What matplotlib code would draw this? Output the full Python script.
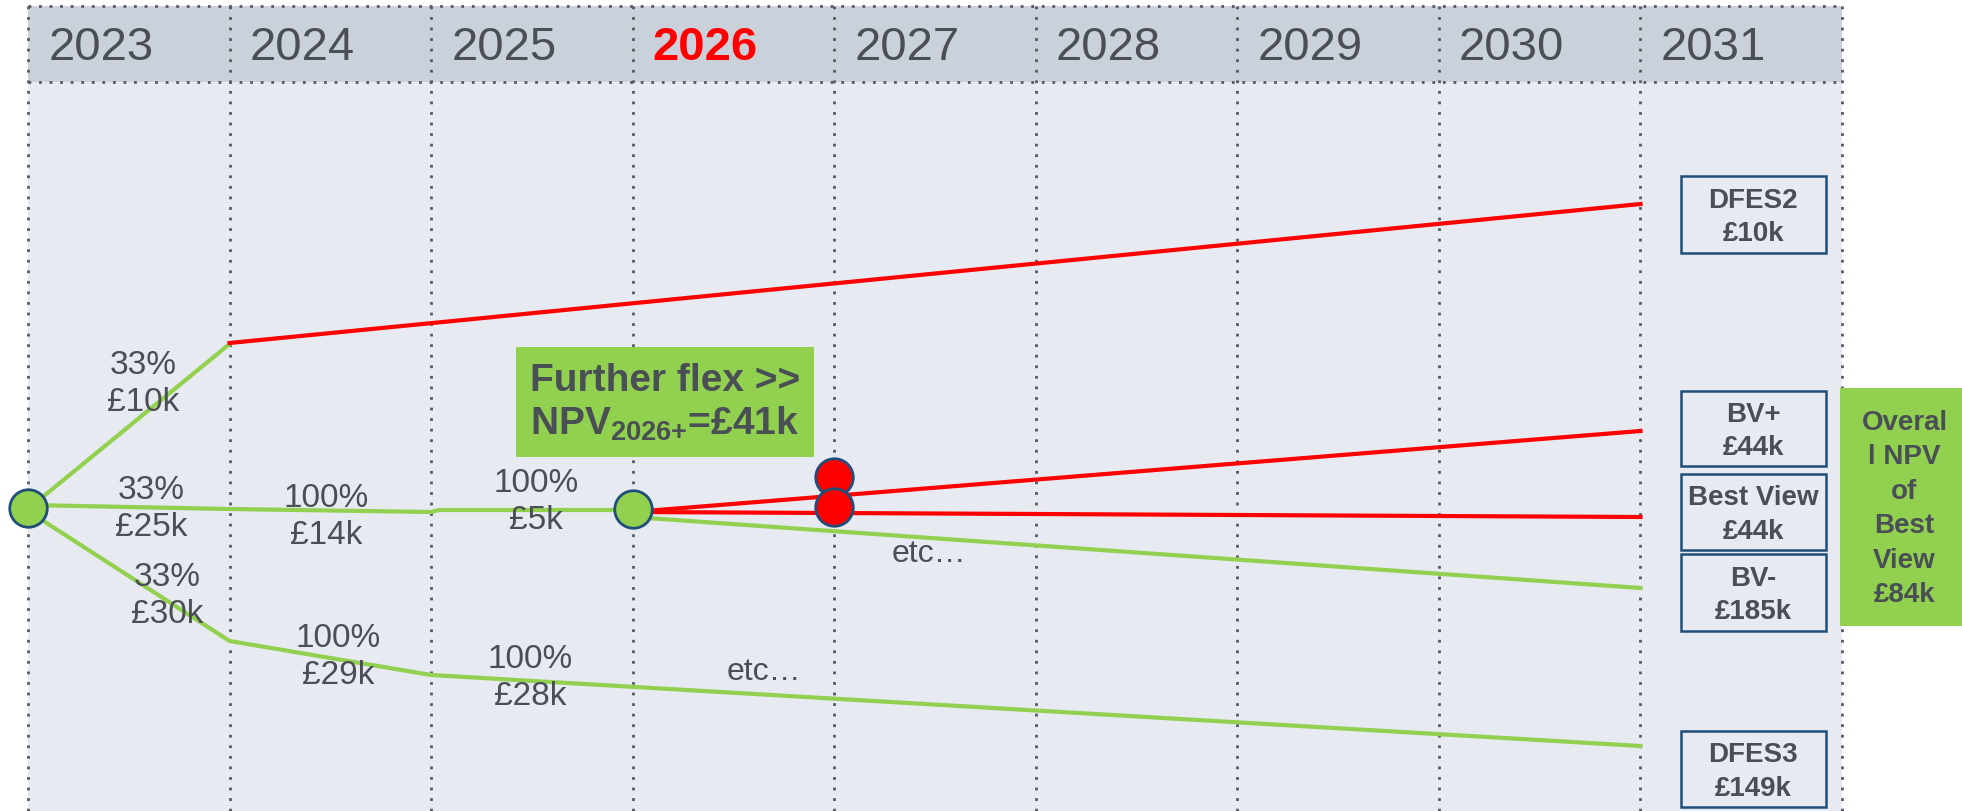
import matplotlib
matplotlib.use("Agg")
import matplotlib.pyplot as plt
from matplotlib.patches import Rectangle

plt.rcParams['font.family'] = ['Liberation Sans', 'DejaVu Sans']
plt.rcParams['mathtext.fontset'] = 'custom'
plt.rcParams['mathtext.rm'] = 'Liberation Sans'
plt.rcParams['mathtext.bf'] = 'Liberation Sans:bold'

# data ----------------------------------------------------------------
YEARS = [2023, 2024, 2025, 2026, 2027, 2028, 2029, 2030, 2031]
HIGHLIGHT_YEAR = 2026

# tree branches: year positions and vertical level (px from top of chart)
UP_GREEN_X = [2023, 2024]
UP_GREEN_Y = [509, 344]
UP_RED_X = [2024, 2031]
UP_RED_Y = [343, 204]
MID_X = [2023, 2024, 2025, 2025.04, 2026]
MID_Y = [505, 509, 512, 510, 510]
LOW_X = [2023, 2024, 2025, 2031]
LOW_Y = [511, 641, 675, 746]
BVP_X = [2026, 2031]
BVP_Y = [512, 431]
BV_X = [2026, 2031]
BV_Y = [512, 517]
BVM_X = [2026, 2031]
BVM_Y = [517, 588]

GREEN_NODE_X = [2023, 2026]
GREEN_NODE_Y = [508, 509]
RED_NODE_X = [2027, 2027]
RED_NODE_Y = [477, 507]

BRANCH_LABELS = ["33%\n£10k", "33%\n£25k", "33%\n£30k", "100%\n£14k",
                 "100%\n£5k", "100%\n£29k", "100%\n£28k"]
BRANCH_LX = [2023.57, 2023.61, 2023.69, 2024.48, 2025.52, 2024.54, 2025.49]
BRANCH_LY = [384, 509, 596, 517, 502, 657, 678]

OUTCOMES = ["DFES2\n£10k", "BV+\n£44k", "Best View\n£44k", "BV-\n£185k",
            "DFES3\n£149k"]
OUTCOME_TOP = [176, 391, 474, 554, 731]
OUTCOME_BOT = [253, 466, 550, 631, 807]

FLEX_TEXT = "Further flex >>\nNPV$_{\\mathbf{2026{+}}}$=£41k"
OVERALL_TEXT = "Overal\nl NPV\nof\nBest\nView\n£84k"

# colours -------------------------------------------------------------
GREEN = '#92D050'
RED = '#FF0000'
NAVY = '#1F4E79'
TEXT = '#4A4F55'
BODY = '#E7EAF0'
HEAD = '#CBD1DB'
DOTS = '#555A60'

fig = plt.figure(figsize=(19.62, 8.11), dpi=100)
ax = fig.add_axes([0, 0, 1, 1])
ppy = 201.56
ax.set_xlim(2023 - 28 / ppy, 2023 + (1962 - 28) / ppy)
ax.set_ylim(811, 0)
ax.axis('off')

# background panel and header band
ax.add_patch(Rectangle((2023, 6), 9, 805, facecolor=BODY, edgecolor='none', zorder=0))
ax.add_patch(Rectangle((2023, 6), 9, 76, facecolor=HEAD, edgecolor='none', zorder=0))

dot = dict(color=DOTS, lw=2.0, linestyle=(0, (1, 2.8)), zorder=1)
for b in YEARS + [YEARS[-1] + 1]:
    ax.plot([b, b], [6, 811], **dot)
for yy in [6, 82]:
    ax.plot([2023, 2032], [yy, yy], **dot)

for yr in YEARS:
    hl = yr == HIGHLIGHT_YEAR
    ax.text(yr + 0.1, 48, str(yr), fontsize=34, ha='left', va='center',
            color=RED if hl else TEXT, fontweight='bold' if hl else 'normal')

# branches
lw = 3.0
ax.plot(UP_GREEN_X, UP_GREEN_Y, color=GREEN, lw=lw, zorder=2)
ax.plot(MID_X, MID_Y, color=GREEN, lw=lw, zorder=2)
ax.plot(LOW_X, LOW_Y, color=GREEN, lw=lw, zorder=2)
ax.plot(BVM_X, BVM_Y, color=GREEN, lw=lw, zorder=2)
ax.plot(UP_RED_X, UP_RED_Y, color=RED, lw=lw, zorder=2)
ax.plot(BVP_X, BVP_Y, color=RED, lw=lw, zorder=2)
ax.plot(BV_X, BV_Y, color=RED, lw=lw, zorder=2)

ax.plot(GREEN_NODE_X, GREEN_NODE_Y, 'o', ms=27, mfc=GREEN, mec=NAVY, mew=2, zorder=4)
ax.plot(RED_NODE_X, RED_NODE_Y, 'o', ms=27, mfc=RED, mec=NAVY, mew=2, zorder=4)

for s, x, y in zip(BRANCH_LABELS, BRANCH_LX, BRANCH_LY):
    ax.text(x, y, s, fontsize=24, ha='center', va='center', color=TEXT,
            linespacing=1.27, zorder=3)
ax.text(2027.47, 554, "etc…", fontsize=23, ha='center', va='center', color=TEXT)
ax.text(2026.65, 672, "etc…", fontsize=23, ha='center', va='center', color=TEXT)

# further flex box
ax.add_patch(Rectangle((2025.42, 347), 1.48, 110, facecolor=GREEN, edgecolor='none', zorder=3))
ax.text(2026.16, 403, FLEX_TEXT, fontsize=28, fontweight='bold', ha='center',
        va='center', color=TEXT, linespacing=1.2, zorder=5)

# outcome boxes
for s, t, b in zip(OUTCOMES, OUTCOME_TOP, OUTCOME_BOT):
    ax.add_patch(Rectangle((2031.20, t), 0.72, b - t, facecolor=BODY,
                           edgecolor=NAVY, lw=1.8, zorder=3))
    ax.text(2031.56, (t + b) / 2 + 3, s, fontsize=20, fontweight='bold',
            ha='center', va='center', color=TEXT, linespacing=1.38, zorder=5)

ax.add_patch(Rectangle((2031.99, 388), 0.8, 238, facecolor=GREEN,
                       edgecolor='none', zorder=3))
ax.text(2032.31, 509, OVERALL_TEXT, fontsize=20, fontweight='bold', ha='center',
        va='center', color=TEXT, linespacing=1.42, zorder=5)

fig.savefig('out.png', dpi=100)
